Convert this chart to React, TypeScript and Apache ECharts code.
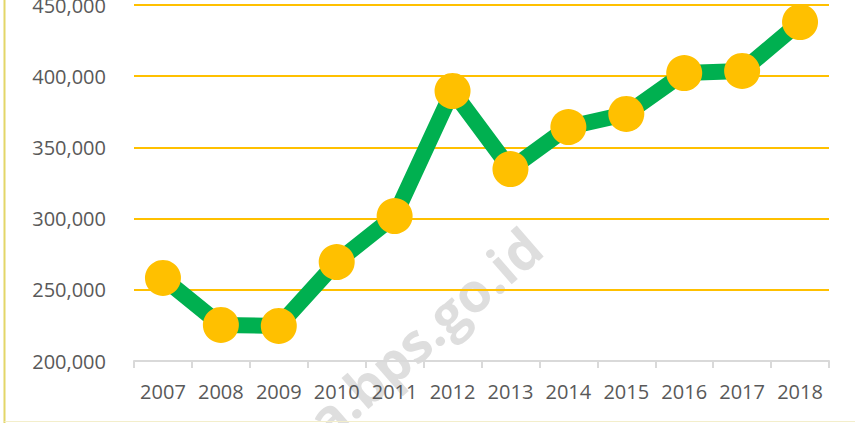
import React, { useEffect, useRef } from "react";
import * as echarts from "echarts";

const years = ["2007", "2008", "2009", "2010", "2011", "2012", "2013", "2014", "2015", "2016", "2017", "2018"];
const values = [258300, 225300, 224600, 269500, 301800, 389600, 334800, 364300, 373500, 402200, 403700, 438000];
const yMin = 200000;
const yMax = 450000;
const yStep = 50000;
const watermark = "https://papua.bps.go.id";

export default function App() {
  const ref = useRef<HTMLDivElement>(null);
  useEffect(() => {
    if (!ref.current) return;
    const chart = echarts.init(ref.current, undefined, { renderer: "svg" });
    chart.setOption({
      animation: false,
      backgroundColor: "#ffffff",
      grid: { left: 134, right: 26, top: 5, bottom: 62, containLabel: false, outerBoundsMode: "none" },
      xAxis: {
        type: "category",
        data: years,
        boundaryGap: true,
        axisLine: { show: true, lineStyle: { color: "#d9d9d9", width: 2 } },
        axisTick: { show: true, length: 7, lineStyle: { color: "#d9d9d9", width: 2 } },
        axisLabel: { color: "#595959", fontSize: 20, fontFamily: "Open Sans", margin: 20, interval: 0, hideOverlap: false },
        splitLine: { show: false },
      },
      yAxis: {
        type: "value",
        min: yMin,
        max: yMax,
        interval: yStep,
        axisLine: { show: false },
        axisTick: { show: false },
        axisLabel: {
          color: "#595959",
          fontSize: 20,
          fontFamily: "Open Sans",
          margin: 28,
          formatter: (v: number) => v.toLocaleString("en-US"),
        },
        splitLine: { show: true, lineStyle: { color: "#FFC000", width: 2 } },
      },
      graphic: [
        {
          type: "text",
          x: 533,
          y: 238,
          rotation: (41 * Math.PI) / 180,
          z: 0,
          style: {
            text: watermark,
            fill: "rgba(190,190,190,0.5)",
            font: "bold 54px 'Open Sans'",
            textAlign: "right",
            textVerticalAlign: "middle",
          },
        },
        {
          type: "line",
          shape: { x1: 4.5, y1: 0, x2: 4.5, y2: 423 },
          style: { stroke: "#E3D668", lineWidth: 2 },
        },
        {
          type: "line",
          shape: { x1: 4.5, y1: 421.5, x2: 855, y2: 421.5 },
          style: { stroke: "#F3EECB", lineWidth: 1 },
        },
      ],
      series: [
        {
          type: "line",
          data: values,
          z: 5,
          lineStyle: { color: "#00B050", width: 16 },
          symbol: "circle",
          symbolSize: 36,
          itemStyle: { color: "#FFC000", borderWidth: 0 },
          emphasis: { disabled: true },
        },
      ],
    });
    return () => chart.dispose();
  }, []);
  return <div ref={ref} style={{ width: 855, height: 423, position: "absolute", left: 0, top: 0 }} />;
}
